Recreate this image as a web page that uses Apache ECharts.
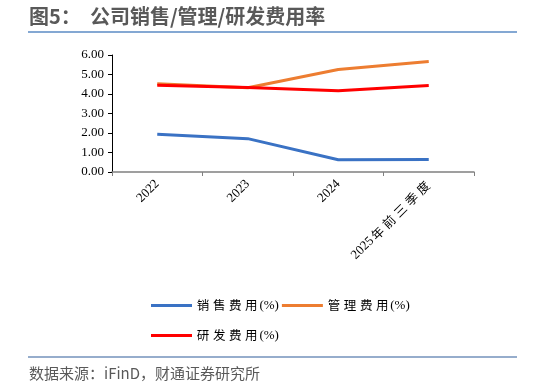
<!DOCTYPE html>
<html>
<head>
<meta charset="utf-8">
<script src="https://cdn.jsdelivr.net/npm/echarts@6/dist/echarts.min.js"></script>
<style>
  html, body { margin: 0; padding: 0; background: #fff; }
  #chart { width: 533px; height: 388px; }
</style>
</head>
<body>
<div id="chart"></div>
<script>
// 数据
const categories = ['2022', '2023', '2024', '2025年前三季度'];
const salesRate = [1.93, 1.71, 0.63, 0.64];
const mgmtRate = [4.52, 4.32, 5.26, 5.67];
const rdRate = [4.45, 4.33, 4.17, 4.44];
const yTicks = [0, 1, 2, 3, 4, 5, 6];

const serif = '"Liberation Serif", "Times New Roman", "Noto Sans CJK SC", serif';

// 中文字符加宽间距（模仿宋体的排版）
function spaced(text) {
  return text.split('').map(ch => /[\u4e00-\u9fff]/.test(ch) ? '{c|' + ch + '}' : '{n|' + ch + '}').join('');
}
const richStyle = {
  c: { fontFamily: '"Noto Sans CJK SC", sans-serif', fontSize: 12.5, color: '#000', padding: [0, 1.8, 0, 1.8] },
  n: { fontFamily: serif, fontSize: 13, color: '#000' }
};

let chart = echarts.init(document.getElementById('chart'), null, { renderer: 'canvas' });

function lineSeries(name, data, color) {
  return {
    name: name,
    type: 'line',
    data: data,
    symbol: 'none',
    lineStyle: { color: color, width: 3 },
    itemStyle: { color: color }
  };
}

const legendBase = {
  itemWidth: 41, itemHeight: 3, itemGap: 3,
  icon: 'rect',
  formatter: name => spaced(name),
  textStyle: { rich: richStyle, padding: [0, 0, 0, -2] }
};

let option = {
  animation: false,
  backgroundColor: '#fff',
  graphic: [
    {
      type: 'text', left: 29, top: 6,
      style: { text: '图5：  公司销售/管理/研发费用率', font: 'bold 20px "Noto Sans CJK SC", sans-serif', fill: '#595959' }
    },
    { type: 'line', shape: { x1: 28, y1: 32, x2: 517, y2: 32 }, style: { stroke: '#5b8bc5', lineWidth: 1.5 } },
    { type: 'line', shape: { x1: 28, y1: 357, x2: 517, y2: 357 }, style: { stroke: '#2e5c9a', lineWidth: 1.2 } },
    {
      type: 'text', left: 29, top: 366,
      style: { text: '数据来源：iFinD，财通证券研究所', font: '15px "Noto Sans CJK SC", sans-serif', fill: '#595959' }
    }
  ],
  grid: { left: 112, right: 59, top: 55, bottom: 216, containLabel: false },
  legend: [
    Object.assign({ left: 146, top: 294, data: ['销售费用(%)', '管理费用(%)'] }, legendBase),
    Object.assign({ left: 146, top: 324, data: ['研发费用(%)'] }, legendBase)
  ],
  xAxis: {
    type: 'category',
    data: categories,
    boundaryGap: true,
    axisLine: { lineStyle: { color: '#808080', width: 1.5 } },
    axisTick: { show: true, alignWithLabel: false, length: 4, lineStyle: { color: '#808080' } },
    axisLabel: {
      rotate: 45, interval: 0, margin: 10,
      formatter: v => spaced(v),
      rich: richStyle
    }
  },
  yAxis: {
    type: 'value',
    min: yTicks[0], max: yTicks[yTicks.length - 1], interval: 1,
    axisLine: { show: true, lineStyle: { color: '#000', width: 1 } },
    axisTick: { show: true, length: 4, lineStyle: { color: '#000' } },
    splitLine: { show: false },
    axisLabel: { formatter: v => v.toFixed(2), fontFamily: serif, fontSize: 13, color: '#000', margin: 8 }
  },
  series: [
    lineSeries('销售费用(%)', salesRate, '#3a72c4'),
    lineSeries('管理费用(%)', mgmtRate, '#ed7d31'),
    lineSeries('研发费用(%)', rdRate, '#ff0000')
  ]
};

chart.setOption(option);
window.addEventListener('resize', () => chart.resize());
</script>
</body>
</html>
